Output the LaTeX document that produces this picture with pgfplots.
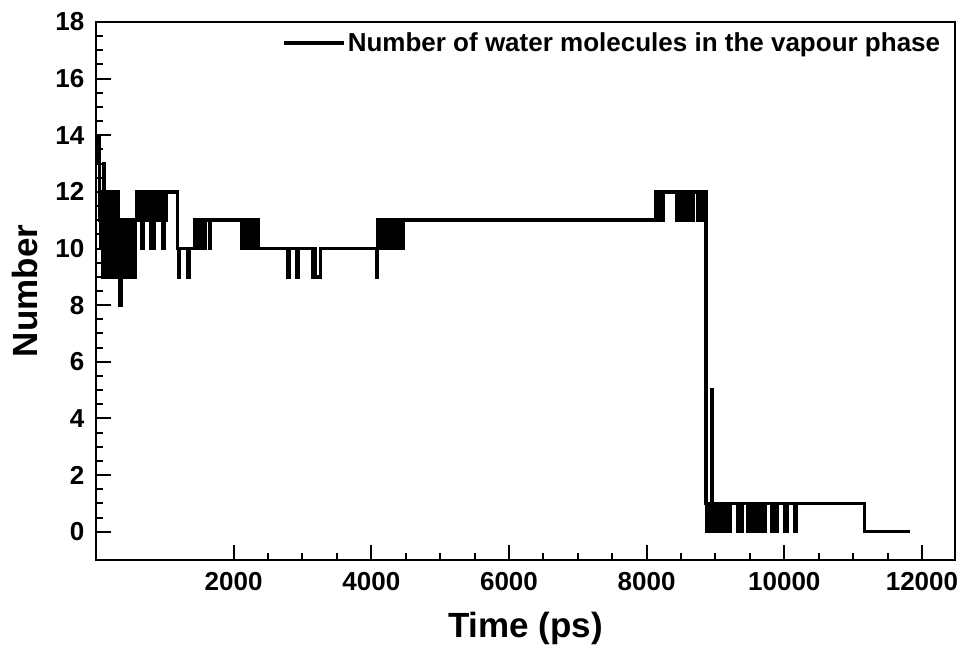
\documentclass[border=0pt]{standalone}
\usepackage{fontspec}
\setmainfont{Liberation Sans}
\usepackage{pgfplots}
\pgfplotsset{compat=1.18}
\begin{document}
\begin{tikzpicture}
\begin{axis}[
 scale only axis, width=859pt, height=538pt,
 xmin=0, xmax=12480, ymin=-1, ymax=18,
 xtick={2000,4000,...,12000}, minor x tick num=3,
 ytick={0,2,...,18}, minor y tick num=3,
 tick align=inside, xtick pos=bottom, ytick pos=left,
 major tick length=15pt, minor tick length=7pt,
 every axis/.append style={line width=2.5pt},
 tick style={line width=2pt, black},
 scaled x ticks=false,
 /pgf/number format/1000 sep={},
 /pgf/number format/assume math mode=true,
 tick label style={font=\fontsize{26}{26}\selectfont\bfseries},
 xticklabel style={yshift=-8pt},
 yticklabel style={xshift=-7pt},
 xlabel={Time (ps)}, ylabel={Number},
 label style={font=\fontsize{35}{35}\selectfont\bfseries},
 xlabel style={at={(axis description cs:0.5,0)}, anchor=center, yshift=-68pt},
 ylabel style={at={(axis description cs:0,0.5)}, anchor=center, yshift=71pt},
 legend style={at={(0.99,0.99)}, anchor=north east, draw=none, fill=none,
   font=\fontsize{26}{26}\selectfont\bfseries},
 legend cell align=left,
 legend image code/.code={\draw[line width=3.5pt] (0pt,0pt) -- (60pt,0pt);},
]
\addplot[const plot, line width=3.5pt, black] table {
x y
0 14
20 13
35 14
50 11
60 12
75 10
85 12
95 9
108 13
122 12
132 9
142 11
152 9
162 12
175 10
188 9
200 12
212 9
222 11
235 9
248 12
262 10
272 9
285 11
297 9
310 12
322 10
335 9
345 8
362 11
375 9
390 11
402 10
415 9
430 11
445 9
458 11
472 10
485 11
500 9
512 11
528 10
545 11
560 9
575 11
590 12
605 11
620 12
635 11
650 12
668 10
680 12
695 11
710 12
725 11
740 12
755 11
770 12
790 10
805 12
820 11
835 10
850 12
865 11
880 12
900 11
915 12
935 11
950 12
975 10
990 12
1010 11
1025 12
1185 10
1200 9
1215 10
1335 9
1350 10
1440 11
1455 10
1475 11
1490 10
1505 11
1520 10
1540 11
1560 10
1580 11
1650 10
1665 11
2120 10
2135 11
2150 10
2170 11
2185 10
2200 11
2215 10
2230 11
2245 10
2260 11
2275 10
2290 11
2310 10
2330 11
2355 10
2785 9
2805 10
2915 9
2935 10
3150 9
3175 10
3190 9
3260 10
4075 9
4090 11
4110 10
4125 11
4140 10
4165 11
4200 10
4215 11
4265 10
4280 11
4295 10
4310 11
4330 10
4350 11
4370 10
4390 11
4410 10
4425 11
4445 10
4465 11
8135 12
8160 11
8175 12
8195 11
8210 12
8230 11
8245 12
8440 11
8460 12
8480 11
8490 12
8525 11
8545 12
8565 11
8590 12
8610 11
8640 12
8660 11
8675 12
8745 11
8765 12
8785 11
8800 12
8820 11
8840 12
8862 1
8880 0
8900 1
8925 0
8940 5
8955 0
8970 1
9015 0
9030 1
9060 0
9075 1
9100 0
9115 1
9160 0
9175 1
9200 0
9215 1
9320 0
9335 1
9375 0
9390 1
9470 0
9485 1
9505 0
9520 1
9535 0
9550 1
9565 0
9580 1
9600 0
9620 1
9645 0
9660 1
9680 0
9695 1
9710 0
9725 1
9815 0
9835 1
9885 0
9900 1
10005 0
10020 1
10035 0
10045 1
10150 0
10170 1
11165 0
11820 0
};
\addlegendentry{Number of water molecules in the vapour phase}
\end{axis}
\pgfresetboundingbox
\path ([xshift=-96pt,yshift=-91pt]current axis.south west) rectangle ([xshift=4pt,yshift=22pt]current axis.north east);
\end{tikzpicture}
\end{document}
